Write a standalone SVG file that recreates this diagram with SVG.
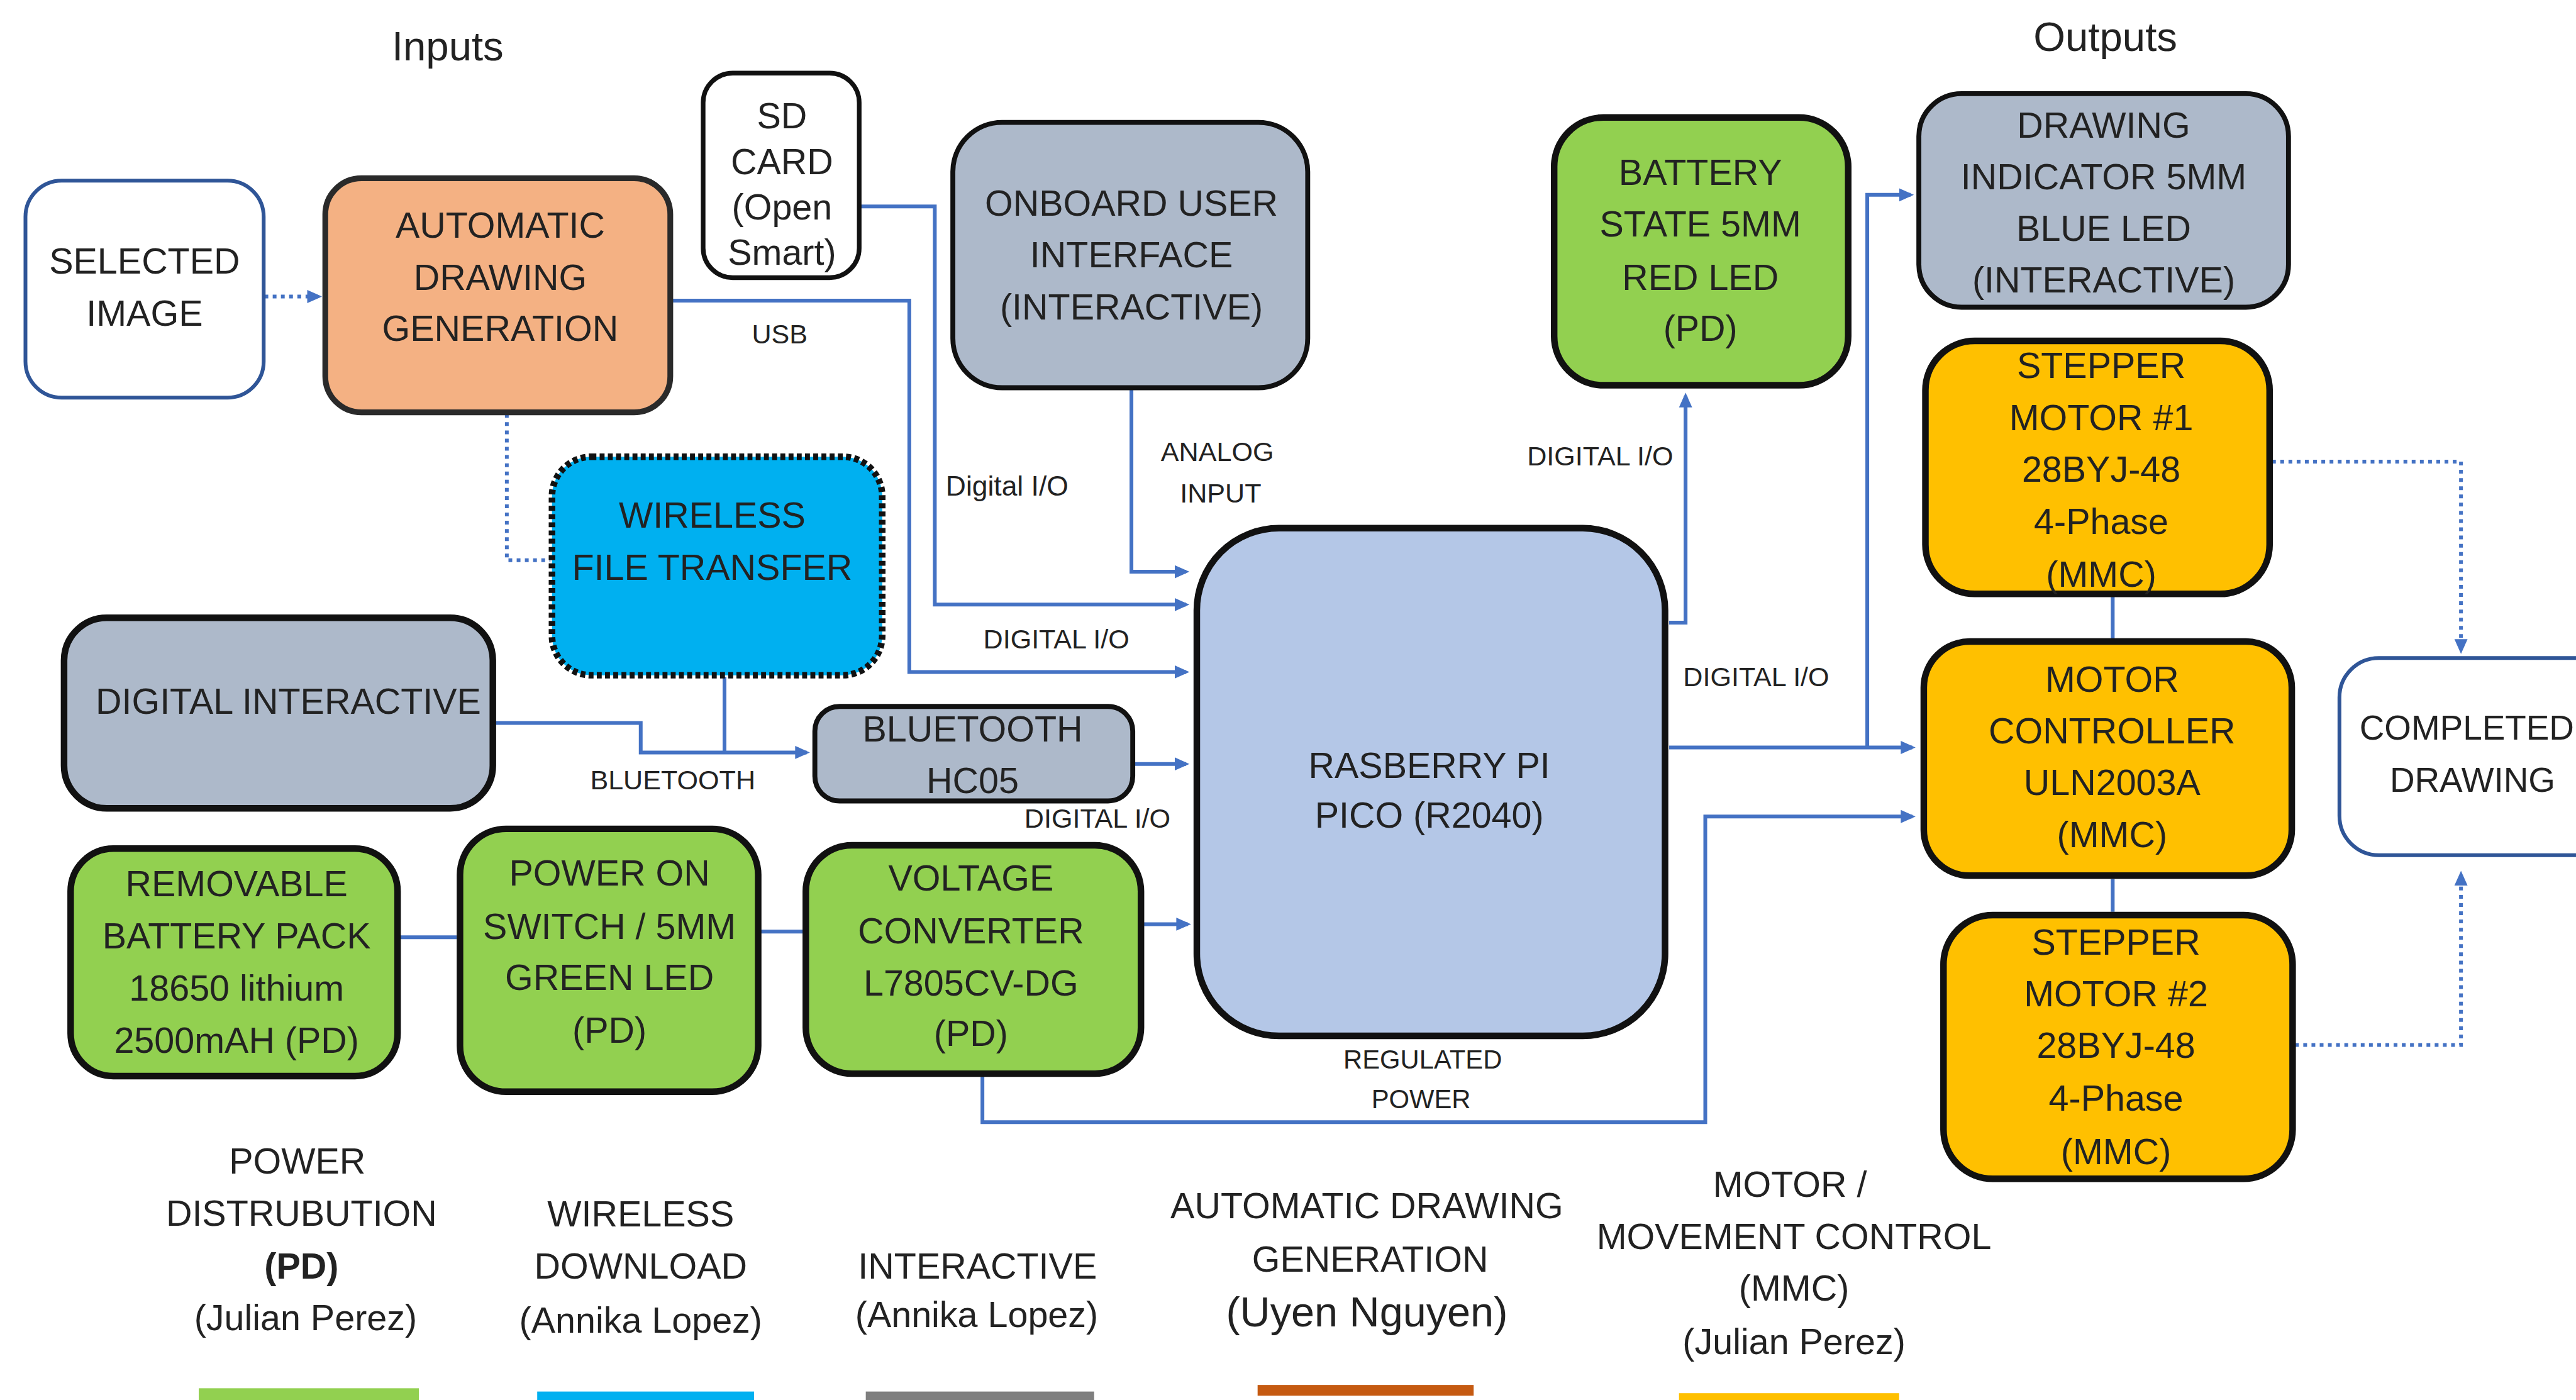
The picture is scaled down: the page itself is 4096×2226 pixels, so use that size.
<svg xmlns="http://www.w3.org/2000/svg" width="4096" height="2226" viewBox="0 0 4096 2226">
<defs>
<style>
.t{font-family:"Liberation Sans",Arial,sans-serif;fill:#222;text-anchor:middle;dominant-baseline:central}
.n{font-size:22px}
.lb{font-size:16.5px}
.lg{font-size:22px}
.ti{font-size:25px}
.bx{stroke:#111;stroke-width:4}
.b3{stroke-width:3}
.int{fill:#adb9ca}
.pd{fill:#92d050}
.mmc{fill:#ffc000}
.ln{fill:none;stroke:#4472c4;stroke-width:2.3}
.dot{stroke-dasharray:2.3 2.7}
.io{fill:#fff;stroke:#2f5597;stroke-width:2.3}
</style>
<marker id="ah" markerUnits="userSpaceOnUse" markerWidth="10" markerHeight="9" refX="7" refY="4.5" orient="auto" viewBox="0 0 10 9"><path d="M0,0.5 L9,4.5 L0,8.5 z" fill="#4472c4"/></marker>
</defs>
<rect width="4096" height="2226" fill="#fff"/>
<g transform="scale(2.612245)">
<g id="titles">
<text class="t ti" x="272.5" y="28">Inputs</text>
<text class="t ti" x="1281.5" y="22.5">Outputs</text>
</g>
<g id="connectors">
<path class="ln dot" d="M161,180.5 H194" marker-end="url(#ah)"/>
<path class="ln dot" d="M308.5,252 V341 H335"/>
<path class="ln" d="M523,125.7 H569 V368 H722" marker-end="url(#ah)"/>
<path class="ln" d="M408,183 H553.5 V409 H722" marker-end="url(#ah)"/>
<path class="ln" d="M688.7,237 V348 H722" marker-end="url(#ah)"/>
<path class="ln" d="M301,440 H390 V458 H491" marker-end="url(#ah)"/>
<path class="ln" d="M441,412 V458"/>
<path class="ln" d="M690,465 H722" marker-end="url(#ah)"/>
<path class="ln" d="M696,562.5 H723" marker-end="url(#ah)"/>
<path class="ln" d="M598,655 V683 H1038 V497 H1164" marker-end="url(#ah)"/>
<path class="ln" d="M1016,455 H1164" marker-end="url(#ah)"/>
<path class="ln" d="M1136.6,455 V118.6 H1163" marker-end="url(#ah)"/>
<path class="ln" d="M1016,379 H1026 V241" marker-end="url(#ah)"/>
<path class="ln dot" d="M1383,281 H1498 V396" marker-end="url(#ah)"/>
<path class="ln dot" d="M1397,636 H1498 V532" marker-end="url(#ah)"/>
<path class="ln" d="M1286,363 V389"/>
<path class="ln" d="M1286,535 V555"/>
<path class="ln" d="M243,570.5 H278"/>
<path class="ln" d="M463,567 H489"/>
</g>
<g id="selected-image">
<rect class="io" x="15.5" y="110" width="145" height="132" rx="22"/>
<text class="t n" x="88" y="159">SELECTED</text>
<text class="t n" x="88" y="190.5">IMAGE</text>
</g>
<g id="automatic-drawing-generation">
<rect x="198" y="108.5" width="210" height="142.5" rx="22" fill="#f4b183" stroke="#2a2a2a" stroke-width="3.5"/>
<text class="t n" x="304.5" y="137">AUTOMATIC</text>
<text class="t n" x="304.5" y="168.7">DRAWING</text>
<text class="t n" x="304.5" y="200">GENERATION</text>
</g>
<g id="sd-card">
<rect x="428" y="44.5" width="95" height="124.5" rx="18" fill="#fff" stroke="#111" stroke-width="2.8"/>
<text class="t n" x="476" y="70.4">SD</text>
<text class="t n" x="476" y="98.2">CARD</text>
<text class="t n" x="476" y="126">(Open</text>
<text class="t n" x="476" y="153.5">Smart)</text>
</g>
<g id="onboard-user-interface">
<rect class="int bx b3" x="580" y="74.5" width="216" height="161.5" rx="30"/>
<text class="t n" x="688.7" y="123.6">ONBOARD USER</text>
<text class="t n" x="688.7" y="155.2">INTERFACE</text>
<text class="t n" x="688.7" y="186.7">(INTERACTIVE)</text>
</g>
<g id="battery-state-led">
<rect class="pd bx" x="946" y="71.5" width="179" height="163" rx="30"/>
<text class="t n" x="1035" y="104.7">BATTERY</text>
<text class="t n" x="1035" y="136.3">STATE 5MM</text>
<text class="t n" x="1035" y="168.7">RED LED</text>
<text class="t n" x="1035" y="199.7">(PD)</text>
</g>
<g id="drawing-indicator-led">
<rect class="int bx b3" x="1168" y="57" width="225" height="130" rx="26"/>
<text class="t n" x="1280.5" y="76">DRAWING</text>
<text class="t n" x="1280.5" y="107.5">INDICATOR 5MM</text>
<text class="t n" x="1280.5" y="139">BLUE LED</text>
<text class="t n" x="1280.5" y="170.5">(INTERACTIVE)</text>
</g>
<g id="stepper-motor-1">
<rect class="mmc bx" x="1172" y="207.5" width="209.5" height="154" rx="30"/>
<text class="t n" x="1279" y="222.5">STEPPER</text>
<text class="t n" x="1279" y="254">MOTOR #1</text>
<text class="t n" x="1279" y="285.5">28BYJ-48</text>
<text class="t n" x="1279" y="317.5">4-Phase</text>
<text class="t n" x="1279" y="349.5">(MMC)</text>
</g>
<g id="motor-controller">
<rect class="mmc bx" x="1171" y="390.5" width="224" height="142.5" rx="28"/>
<text class="t n" x="1285.6" y="413.4">MOTOR</text>
<text class="t n" x="1285.6" y="445">CONTROLLER</text>
<text class="t n" x="1285.6" y="476.4">ULN2003A</text>
<text class="t n" x="1285.6" y="508">(MMC)</text>
</g>
<g id="stepper-motor-2">
<rect class="mmc bx" x="1183" y="557" width="212.5" height="160.5" rx="30"/>
<text class="t n" x="1288" y="573.5">STEPPER</text>
<text class="t n" x="1288" y="604.8">MOTOR #2</text>
<text class="t n" x="1288" y="636.2">28BYJ-48</text>
<text class="t n" x="1288" y="668.5">4-Phase</text>
<text class="t n" x="1288" y="701">(MMC)</text>
</g>
<g id="completed-drawing">
<rect class="io" x="1424" y="400.5" width="175" height="120" rx="24"/>
<text class="t n" x="1501.5" y="443" style="font-size:21px">COMPLETED</text>
<text class="t n" x="1505" y="474.6" style="font-size:21px">DRAWING</text>
</g>
<g id="wireless-file-transfer">
<rect x="336" y="278" width="201" height="133" rx="24" fill="#00b0f0" stroke="#111" stroke-width="4" stroke-dasharray="3 2"/>
<text class="t n" x="433.5" y="313.7">WIRELESS</text>
<text class="t n" x="433.5" y="345.2">FILE TRANSFER</text>
</g>
<g id="digital-interactive">
<rect class="int bx" x="39" y="376" width="261" height="116" rx="26"/>
<text class="t n" x="175.5" y="426.8">DIGITAL INTERACTIVE</text>
</g>
<g id="bluetooth-hc05">
<rect class="int bx b3" x="496" y="430" width="193.5" height="57.5" rx="15"/>
<text class="t n" x="592" y="443.5">BLUETOOTH</text>
<text class="t n" x="592" y="475">HC05</text>
</g>
<g id="raspberry-pi-pico">
<rect x="728.5" y="321.5" width="285" height="309" rx="50" fill="#b4c7e7" stroke="#111" stroke-width="4"/>
<text class="t n" x="870" y="465.7">RASBERRY PI</text>
<text class="t n" x="870" y="496">PICO (R2040)</text>
</g>
<g id="removable-battery-pack">
<rect class="pd bx" x="43" y="516.5" width="199" height="138.5" rx="26"/>
<text class="t n" x="144" y="538">REMOVABLE</text>
<text class="t n" x="144" y="569.7">BATTERY PACK</text>
<text class="t n" x="144" y="601.4">18650 lithium</text>
<text class="t n" x="144" y="633">2500mAH (PD)</text>
</g>
<g id="power-on-switch">
<rect class="pd bx" x="280" y="504.5" width="181.5" height="160" rx="28"/>
<text class="t n" x="371" y="531.5">POWER ON</text>
<text class="t n" x="371" y="563.7">SWITCH / 5MM</text>
<text class="t n" x="371" y="595">GREEN LED</text>
<text class="t n" x="371" y="627">(PD)</text>
</g>
<g id="voltage-converter">
<rect class="pd bx" x="490.5" y="514.5" width="204" height="139" rx="28" stroke-width="3.5"/>
<text class="t n" x="591" y="534.3">VOLTAGE</text>
<text class="t n" x="591" y="566.6">CONVERTER</text>
<text class="t n" x="591" y="598.3">L7805CV-DG</text>
<text class="t n" x="591" y="629">(PD)</text>
</g>
<g id="connector-labels">
<text class="t lb" x="474.6" y="203.4">USB</text>
<text class="t lb" x="613" y="295.7" style="font-size:17px">Digital I/O</text>
<text class="t lb" x="741" y="275">ANALOG</text>
<text class="t lb" x="743" y="300.3">INPUT</text>
<text class="t lb" x="643" y="388.8">DIGITAL I/O</text>
<text class="t lb" x="409.5" y="474.6">BLUETOOTH</text>
<text class="t lb" x="668" y="498.2">DIGITAL I/O</text>
<text class="t lb" x="974" y="277.5">DIGITAL I/O</text>
<text class="t lb" x="1069" y="412">DIGITAL I/O</text>
<text class="t lb" x="866" y="645" style="font-size:16px">REGULATED</text>
<text class="t lb" x="865" y="669" style="font-size:16px">POWER</text>
</g>
<g id="legend">
<text class="t lg" x="181" y="706.7">POWER</text>
<text class="t lg" x="183.5" y="738.4">DISTRUBUTION</text>
<text class="t lg" x="183.5" y="770.5" font-weight="bold">(PD)</text>
<text class="t lg" x="186" y="802">(Julian Perez)</text>
<rect x="121" y="845" width="134" height="8" fill="#92d050"/>
<text class="t lg" x="390" y="739">WIRELESS</text>
<text class="t lg" x="390" y="770.7">DOWNLOAD</text>
<text class="t lg" x="390" y="803.5">(Annika Lopez)</text>
<rect x="327" y="847" width="132" height="6" fill="#00b0f0"/>
<text class="t lg" x="595" y="770.7">INTERACTIVE</text>
<text class="t lg" x="594.5" y="800">(Annika Lopez)</text>
<rect x="527" y="847" width="139" height="6" fill="#7f7f7f"/>
<text class="t lg" x="832" y="734">AUTOMATIC DRAWING</text>
<text class="t lg" x="834" y="766.5">GENERATION</text>
<text class="t lg" x="832" y="798.5" style="font-size:25.5px">(Uyen Nguyen)</text>
<rect x="765.5" y="843" width="131.5" height="6.5" fill="#c55a11"/>
<text class="t lg" x="1089.5" y="720.8">MOTOR /</text>
<text class="t lg" x="1092" y="752.7">MOVEMENT CONTROL</text>
<text class="t lg" x="1092" y="784">(MMC)</text>
<text class="t lg" x="1092" y="816.5">(Julian Perez)</text>
<rect x="1022" y="848" width="134" height="5" fill="#ffc000"/>
</g>
</g>
</svg>
